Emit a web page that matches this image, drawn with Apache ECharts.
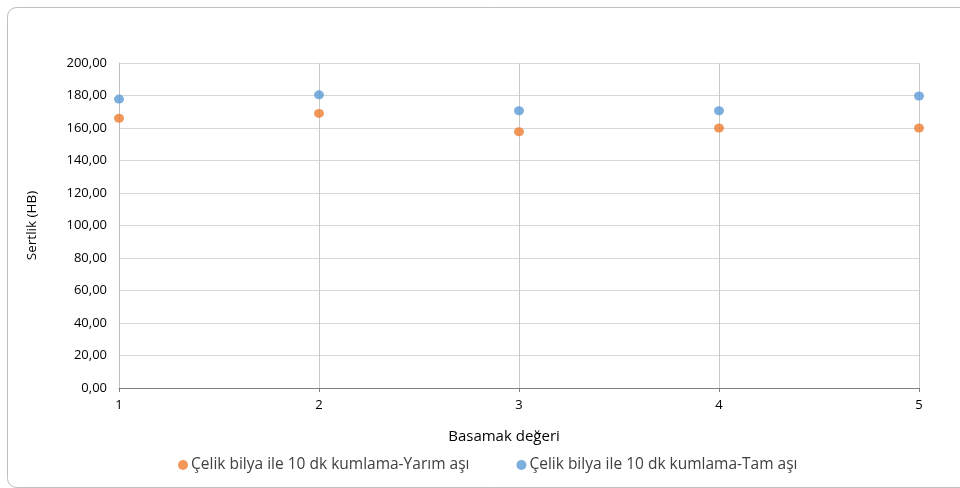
<!DOCTYPE html>
<html><head><meta charset="utf-8">
<script src="https://cdn.jsdelivr.net/npm/echarts@6/dist/echarts.min.js"></script>
<style>html,body{margin:0;padding:0;background:#fff}#c{width:960px;height:488px}</style>
</head><body><div id="c"></div>
<script>
const steps = [1, 2, 3, 4, 5];
const yarimAsi = [166, 169, 157.7, 160, 160];
const tamAsi = [177.8, 180.4, 170.6, 170.6, 179.7];
const seriesNames = ['Çelik bilya ile 10 dk kumlama-Yarım aşı', 'Çelik bilya ile 10 dk kumlama-Tam aşı'];
const colors = ['#ED7D31', '#5B9BD5'];
const font = '"Open Sans", "Liberation Sans", sans-serif';

const chart = echarts.init(document.getElementById('c'), null, {renderer: 'canvas'});
chart.setOption({
  animation: false,
  backgroundColor: '#fff',
  graphic: [{
    type: 'rect', left: 5, top: 5,
    shape: {width: 970, height: 480, r: 9},
    style: {fill: 'none', stroke: '#BFBFBF', lineWidth: 1},
    silent: true, z: -1
  }],
  grid: {left: 119, right: 41, top: 63, bottom: 100},
  legend: {
    data: seriesNames, top: 452, left: 173,
    itemGap: 47, itemWidth: 10, itemHeight: 10,
    icon: 'circle',
    textStyle: {fontFamily: font, fontSize: 15.5, color: '#404040', padding: [0, 0, 0, -2]}
  },
  xAxis: {
    type: 'value', min: 1, max: 5, interval: 1,
    name: 'Basamak değeri', nameLocation: 'middle', nameGap: 41,
    nameTextStyle: {fontFamily: font, fontSize: 15, color: '#000', padding: [0, 30, 0, 0]},
    axisLine: {lineStyle: {color: '#7F7F7F'}},
    axisTick: {show: true, length: 4, lineStyle: {color: '#7F7F7F'}},
    axisLabel: {fontFamily: font, fontSize: 13, color: '#000', margin: 11},
    splitLine: {show: true, lineStyle: {color: '#C8C8C8'}}
  },
  yAxis: {
    type: 'value', min: 0, max: 200, interval: 20,
    name: 'Sertlik (HB)', nameLocation: 'middle', nameGap: 80,
    nameTextStyle: {fontFamily: font, fontSize: 13.5, color: '#000'},
    axisLine: {show: true, lineStyle: {color: '#BFBFBF'}},
    axisTick: {show: false},
    axisLabel: {fontFamily: font, fontSize: 13, color: '#000', margin: 12,
      formatter: v => v.toFixed(2).replace('.', ',')},
    splitLine: {show: true, lineStyle: {color: '#D9D9D9'}}
  },
  series: [
    {name: seriesNames[0], type: 'scatter', symbol: 'circle', symbolSize: [10, 9],
     itemStyle: {color: colors[0]}, data: steps.map((s, i) => [s, yarimAsi[i]]), clip: false},
    {name: seriesNames[1], type: 'scatter', symbol: 'circle', symbolSize: [10, 9],
     itemStyle: {color: colors[1]}, data: steps.map((s, i) => [s, tamAsi[i]]), clip: false}
  ]
});
</script></body></html>
